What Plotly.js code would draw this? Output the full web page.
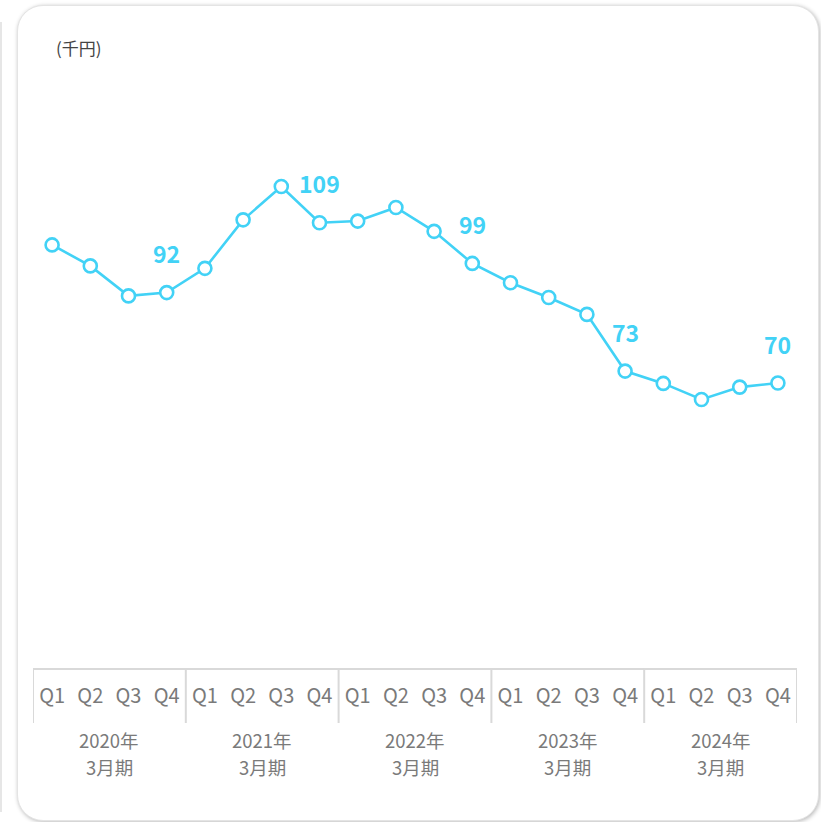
<!DOCTYPE html>
<html>
<head>
<meta charset="utf-8">
<script src="https://cdn.plot.ly/plotly-3.0.1.min.js"></script>
<style>
  html, body { margin: 0; padding: 0; background: #ffffff; }
  #wrap { position: relative; width: 821px; height: 822px; overflow: hidden; background: #fff; }
  #edge { position: absolute; left: 0; top: 22px; width: 2px; height: 790px; background: #e6e6e6; }
  #card { position: absolute; left: 17px; top: 5px; width: 800px; height: 814px; border-radius: 26px;
          background: #fff; border: 1px solid #e4e4e4;
          box-shadow: 1px 1px 4px rgba(0,0,0,0.28); }
  #chart { position: absolute; left: 0; top: 0; width: 821px; height: 822px; }
</style>
</head>
<body>
<div id="wrap">
  <div id="edge"></div>
  <div id="card"></div>
  <div id="chart"></div>
</div>
<script>
// ---- data ----
const years = ['2020年', '2021年', '2022年', '2023年', '2024年'];
const yearSuffix = '3月期';
const quarters = ['Q1', 'Q2', 'Q3', 'Q4'];
const values = [103.6, 98.5, 91.2, 92.0,
                97.9, 109.7, 117.8, 109.0,
                109.4, 112.7, 106.9, 99.1,
                94.4, 90.8, 86.7, 72.9,
                69.9, 66.0, 69.0, 70.0];
const unitLabel = '(千円)';

// ---- build ----
const cats = [];
const tickText = [];
years.forEach(y => quarters.forEach(q => { cats.push(y + ' ' + q); tickText.push(q); }));

const cyan = '#42d2f6';
const grey = '#d9d9d9';
const fontFam = '"Noto Sans CJK JP", "Noto Sans", sans-serif';

const W = 821, H = 822;
const mL = 33, mR = 24, mT = 50, mB = 154;
const plotH = H - mT - mB;
const pyPix = py => (H - mB - py) / plotH; // pixel row -> paper y

const trace = {
  type: 'scatter', mode: 'lines+markers',
  x: cats, y: values,
  line: { color: cyan, width: 2.6 },
  marker: { size: 13, color: '#ffffff', line: { color: cyan, width: 2.6 } },
  cliponaxis: false, hoverinfo: 'skip'
};

const annotations = [];
// value labels on each Q4 point
years.forEach((y, i) => {
  const idx = i * quarters.length + quarters.length - 1;
  annotations.push({
    x: cats[idx], y: values[idx], xref: 'x', yref: 'y',
    text: String(Math.round(values[idx])), showarrow: false,
    yshift: 39.5, xanchor: 'center', yanchor: 'middle',
    font: { family: fontFam, size: 23, color: cyan, weight: 'bold' }
  });
});
// fiscal year labels (two lines)
years.forEach((y, i) => {
  const xc = i * quarters.length + (quarters.length - 1) / 2;
  annotations.push({
    x: xc, xref: 'x', y: pyPix(739.5), yref: 'paper',
    text: y, showarrow: false, xanchor: 'center', yanchor: 'middle', borderpad: 0,
    font: { family: fontFam, size: 18.5, color: '#7a7a7a' }
  });
  annotations.push({
    x: xc, xref: 'x', y: pyPix(767), yref: 'paper',
    text: yearSuffix, showarrow: false, xanchor: 'center', yanchor: 'middle', borderpad: 0,
    font: { family: fontFam, size: 18.5, color: '#7a7a7a' }
  });
});

// unit label
annotations.push({
  x: (54 - mL) / (W - mL - mR), y: pyPix(47), xref: 'paper', yref: 'paper',
  text: unitLabel, showarrow: false, xanchor: 'left', yanchor: 'middle',
  font: { family: fontFam, size: 17, color: '#444444' }
});

// dividers between fiscal years
const shapes = [];
for (let i = 0; i <= years.length; i++) {
  const xv = i * quarters.length - 0.5;
  shapes.push({ type: 'line', xref: 'x', yref: 'paper', x0: xv, x1: xv, y0: 0, y1: pyPix(723),
                line: { color: grey, width: 2 } });
}

const layout = {
  width: W, height: H,
  margin: { l: mL, r: mR, t: mT, b: mB, pad: 0 },
  paper_bgcolor: 'rgba(0,0,0,0)', plot_bgcolor: 'rgba(0,0,0,0)',
  showlegend: false,
  xaxis: {
    type: 'category', categoryorder: 'array', categoryarray: cats,
    range: [-0.5, cats.length - 0.5],
    tickmode: 'array', tickvals: cats, ticktext: tickText,
    ticks: '', showgrid: false, zeroline: false,
    showline: true, linecolor: grey, linewidth: 2,
    ticklabelstandoff: 9,
    tickfont: { family: fontFam, size: 20, color: '#7a7a7a' }
  },
  yaxis: {
    range: [0.66, 0.66 + plotH / 4.11],
    visible: false, showgrid: false, zeroline: false
  },
  annotations: annotations,
  shapes: shapes
};

Plotly.newPlot('chart', [trace], layout, { staticPlot: true, displayModeBar: false });
</script>
</body>
</html>
